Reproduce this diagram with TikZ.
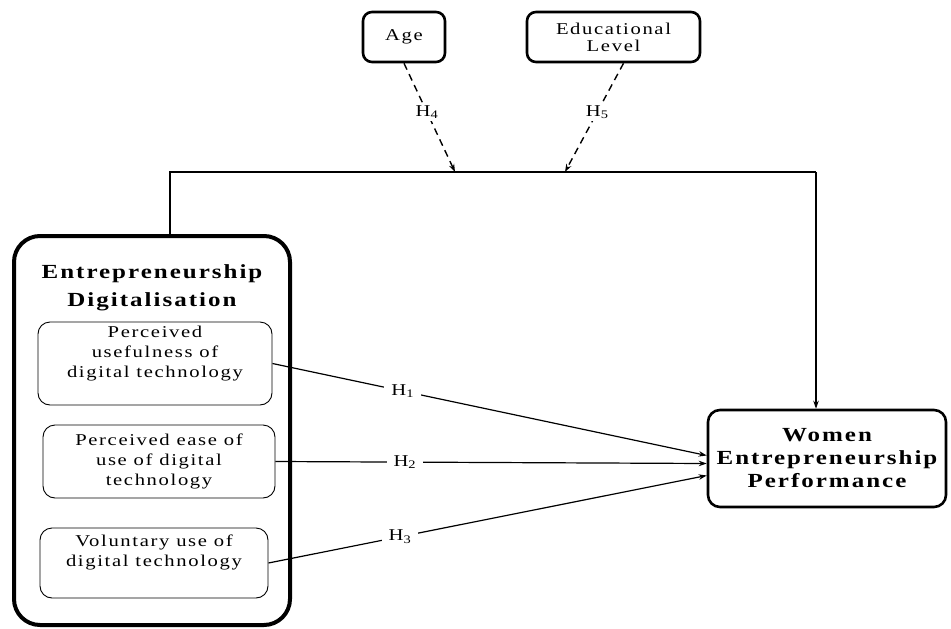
\documentclass[tikz,border=0pt]{standalone}
\usepackage{fontspec}
\setmainfont{Liberation Serif}[FakeStretch=1.25,LetterSpace=10]
\usepackage{tikz}
\usetikzlibrary{arrows.meta, positioning, calc}

\begin{document}
\begin{tikzpicture}[x=1pt, y=-1pt,
    bigbox/.style={rectangle, draw, line width=4pt, rounded corners=26pt},
    varbox/.style={rectangle, draw, line width=2.6pt, rounded corners=9pt, align=center,
                   font=\fontsize{16.5}{17}\selectfont},
    outbox/.style={rectangle, draw, line width=2.6pt, rounded corners=12pt, align=center,
                   font=\fontsize{20}{23}\selectfont\bfseries},
    itembox/.style={rectangle, draw, line width=0.9pt, rounded corners=12pt, align=center,
                    font=\fontsize{16.5}{20}\selectfont},
    lbl/.style={fill=white, inner xsep=7pt, inner ysep=2pt, font=\fontsize{16.5}{18}\selectfont},
    line/.style={line width=1.2pt},
    arr/.style={line width=1.2pt, -{Stealth[length=8pt, width=5.5pt]}},
    darr/.style={line width=1.4pt, dash pattern=on 7pt off 5pt, -{Stealth[length=8pt, width=5.5pt]}},
]
\useasboundingbox (0,0) rectangle (951,629);

% moderators
\node[varbox, minimum width=82pt, minimum height=50pt] (age) at (404,37) {Age};
\node[varbox, minimum width=173pt, minimum height=50pt] (edu) at (613.5,37) {Educational\\Level};

% independent construct
\node[bigbox, minimum width=276pt, minimum height=389pt] (ed) at (152,430.5) {};
\node[font=\fontsize{20}{28}\selectfont\bfseries, align=center] (edtitle) at (152,288) {Entrepreneurship\\Digitalisation};
\node[itembox, minimum width=234pt, minimum height=83pt] (p1) at (155,363.5) {Perceived\\usefulness of\\digital technology\\[4pt]};
\node[itembox, minimum width=232pt, minimum height=73pt] (p2) at (159,461.5) {Perceived ease of\\use of digital\\technology};
\node[itembox, minimum width=228pt, minimum height=70pt] (p3) at (154,563) {Voluntary use of\\digital technology\\[4pt]};

% dependent construct
\node[outbox, minimum width=238pt, minimum height=97pt] (wep) at (827,458.5) {Women\\Entrepreneurship\\Performance};

% moderating path
\coordinate (tl) at (170,172);
\coordinate (tr) at (816,172);
\coordinate (m4) at (455,172);
\coordinate (m5) at (565,172);
\draw[line] (ed.north -| tl) -- (tl) -- (tr);
\draw[arr] (tr) -- (wep.north -| tr);
\draw[darr] (age.south) -- node[lbl, pos=0.45] {H\textsubscript{4}} (m4);
\draw[darr] ([xshift=10pt]edu.south) -- node[lbl, pos=0.45] {H\textsubscript{5}} (m5);

% direct paths
\draw[arr] (p1.east) -- node[lbl, pos=0.3] {H\textsubscript{1}} ([yshift=3pt]wep.west);
\draw[arr] (p2.east) -- node[lbl, pos=0.3] {H\textsubscript{2}} ([yshift=-5pt]wep.west);
\draw[arr] (p3.east) -- node[lbl, pos=0.3] {H\textsubscript{3}} ([yshift=-17pt]wep.west);
\end{tikzpicture}
\end{document}
